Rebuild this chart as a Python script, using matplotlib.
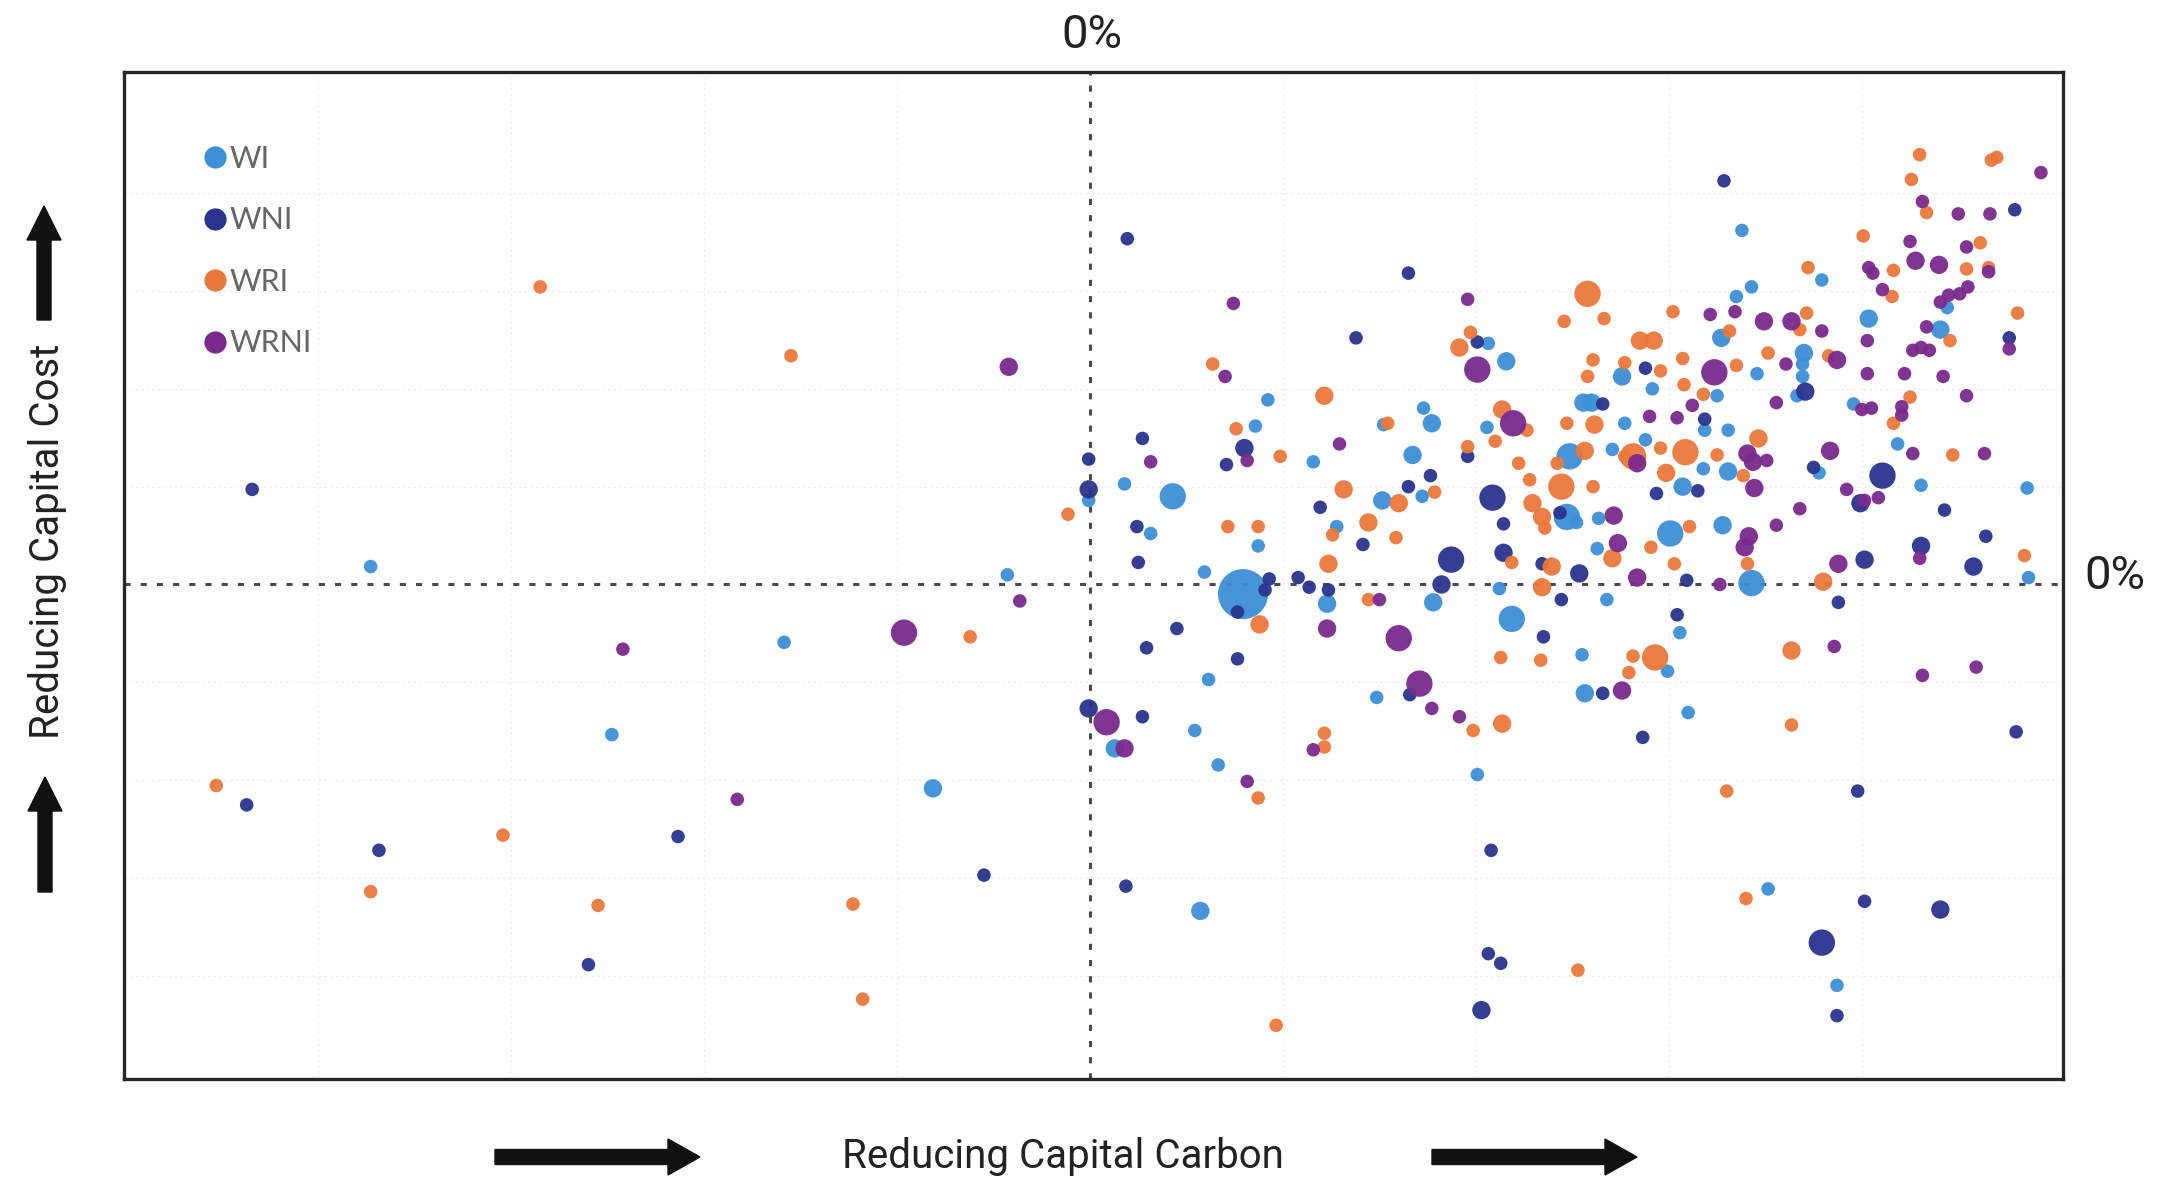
import matplotlib
matplotlib.use("Agg")
import matplotlib.pyplot as plt
from matplotlib.lines import Line2D
from matplotlib.patches import FancyArrow
from matplotlib.transforms import IdentityTransform

# ---------------- data ----------------
series_names = ["WI", "WNI", "WRI", "WRNI"]
series_colors = ["#3d8fd6", "#29348e", "#ea783b", "#7a2a8d"]

wi_x = [-52.2, -6.0, -22.2, -34.7, -11.4, -0.1, 2.5, 6.0, 4.4, 8.3, 11.1, 8.6, 7.6, 9.3, 1.8, 8.0,
        12.9, 12.0, 12.2, 16.2, 17.9, 17.2, 20.8, 21.2, 23.4, 24.1, 24.9, 24.2, 24.8, 28.9, 30.2,
        28.8, 29.7, 30.6, 28.1, 34.6, 35.3, 34.8, 35.8, 36.4, 38.6, 38.8, 37.9, 36.9, 36.8, 37.5,
        35.7, 35.9, 43.4, 42.8, 41.9, 40.3, 40.8, 44.6, 46.3, 44.5, 46.3, 43.0, 45.9, 42.1, 48.0,
        45.5, 48.4, 45.8, 46.9, 48.0, 47.3, 53.1, 51.8, 51.7, 51.7, 51.3, 55.4, 56.5, 61.7, 62.2,
        58.6, 52.9, 60.3, 68.0, 68.1, 49.2, 54.2, 21.3]
wi_y = [1.3, 0.7, -4.2, -10.9, -14.8, 6.1, 7.3, 6.4, 3.7, 0.9, -0.7, -6.9, -10.6, -13.1, -11.9, -23.7,
        13.4, 11.5, 2.8, 8.9, 4.2, -1.4, -8.2, 6.1, 9.4, 6.4, -1.3, 12.8, 11.7, 17.5, 16.2,
        11.4, -0.3, -2.5, -13.8, 4.9, 4.5, 9.3, 13.2, 13.2, 15.1, 11.7, 9.8, 4.8, 2.6, -1.1,
        -5.1, -7.9, -9.3, -3.5, -6.3, 10.5, 14.2, 11.2, 11.2, 8.4, 8.2, 7.1, 4.3, 3.7, 0.1,
        13.7, 15.3, 17.9, 20.9, 21.6, 25.7, 22.1, 16.8, 16.0, 15.1, 13.7, 13.1, 19.3, 18.5, 20.1,
        10.2, 8.1, 7.2, 7.0, 0.5, -22.1, -29.1, 11.6]
wi_w = [1, 1, 1, 1, 2, 1, 1, 3, 1, 1, 4, 1, 1, 1, 2, 2,
        1, 1, 1, 1, 1, 2, 1, 2, 2, 1, 2, 1, 2, 1, 2,
        1, 1, 3, 1, 3, 1, 3, 2, 2, 2, 1, 1, 1, 1, 1,
        1, 2, 1, 1, 1, 1, 1, 1, 1, 1, 2, 2, 2, 3, 3,
        1, 1, 2, 1, 1, 1, 1, 2, 1, 1, 1, 1, 2, 2, 1,
        1, 1, 1, 1, 1, 1, 1, 1]

wni_x = [-60.8, -61.2, -51.6, -29.9, -7.7, -36.4, 2.7, 3.8, -0.1, -0.1, 3.4, 3.5, 6.3, 4.1, 10.7,
         3.8, -0.1, 2.6, 9.9, 11.2, 10.7, 13.0, 12.7, 15.1, 15.9, 17.3, 16.7, 19.8, 19.3, 23.1,
         23.1, 24.7, 27.4, 28.1, 26.2, 25.5, 23.2, 29.2, 30.0, 30.0, 32.8, 34.2, 35.5, 32.9, 34.1,
         37.2, 40.1, 29.1, 28.9, 29.8, 28.4, 37.2, 40.3, 41.1, 44.1, 43.3, 42.6, 44.6, 46.0, 51.9,
         52.5, 54.3, 56.2, 57.5, 55.9, 62.0, 60.3, 65.0, 64.1, 67.1, 66.7, 67.2, 55.7, 56.2, 61.7,
         53.1, 54.2]
wni_y = [6.9, -16.0, -19.3, -18.3, -21.1, -27.6, 25.1, 10.6, 9.1, 6.9, 4.2, 1.6, -3.2, -4.6, -5.4,
         -9.6, -9.0, -21.9, 8.7, 9.9, -2.0, 0.4, -0.4, 0.5, -0.2, -0.4, 5.6, 2.9, 17.9, 22.6,
         7.1, 7.9, 9.3, 17.6, 1.8, 0.0, -8.0, 6.3, 4.4, 2.3, 1.5, -1.1, 0.8, -3.8, 5.2,
         13.1, -11.1, -19.3, -26.8, -27.5, -30.9, -7.9, 15.7, 6.6, 6.8, 0.3, -2.2, 12.0, 29.3, 14.0,
         8.5, -1.3, 1.8, 7.9, 5.9, 5.4, 2.8, 3.5, 1.3, 27.2, 17.9, -10.7, -15.0, -23.0, -23.6,
         -26.0, -31.3]
wni_w = [1, 1, 1, 1, 1, 1, 1, 1, 1, 2, 1, 1, 1, 1, 1,
         1, 2, 1, 1, 2, 1, 1, 1, 1, 1, 1, 1, 1, 1, 1,
         1, 1, 1, 1, 3, 2, 1, 3, 1, 2, 1, 1, 2, 1, 1,
         1, 1, 1, 1, 1, 2, 1, 1, 1, 1, 1, 1, 1, 1, 2,
         1, 1, 2, 3, 2, 1, 2, 1, 2, 1, 1, 1, 1, 1, 2,
         3, 1]

wri_x = [-39.9, -21.7, -63.4, -42.6, -52.2, -35.7, -17.2, -16.5, -8.7, -1.6, 8.9, 17.0, 10.6, 13.8,
         10.0, 12.2, 12.3, 17.3, 20.2, 18.4, 17.6, 20.2, 12.2, 17.0, 17.0, 13.5, 21.6, 22.4, 22.2,
         25.0, 27.6, 26.8, 27.4, 29.4, 29.9, 31.7, 31.1, 31.9, 34.2, 33.9, 32.1, 32.8, 33.0, 35.9,
         36.5, 34.6, 36.6, 36.1, 34.4, 37.3, 36.5, 36.1, 38.8, 38.8, 30.6, 33.5, 32.8, 37.9, 29.8,
         32.7, 29.9, 27.8, 35.4, 39.9, 40.9, 42.3, 43.0, 41.4, 43.1, 44.5, 46.4, 49.2, 46.9, 52.0,
         51.5, 52.1, 53.6, 56.1, 58.3, 58.2, 58.3, 59.5, 59.6, 60.2, 60.7, 63.6, 65.2, 64.6, 65.4,
         65.8, 62.4, 67.3, 48.5, 39.4, 41.4, 43.2, 41.8, 45.5, 47.4, 43.5, 40.7, 42.4, 47.7, 53.2,
         62.6, 67.8, 50.9, 39.4, 41.0, 39.1, 50.9, 46.2, 47.6]
wri_y = [21.6, 16.6, -14.6, -18.2, -22.3, -23.3, -23.2, -30.1, -3.8, 5.1, 16.0, 13.7, 11.3, 9.3,
         4.2, 4.2, -2.9, 1.5, 4.5, 6.9, 3.6, -1.1, -15.5, -10.8, -11.8, -32.0, 11.7, 5.9, 3.4,
         6.7, 18.3, 17.2, 10.0, 10.4, 12.7, 11.2, 8.8, 7.6, 7.1, 8.8, 5.9, 4.9, 4.1, 9.7,
         7.1, 11.7, 11.6, 21.1, 19.1, 19.3, 16.3, 15.1, 16.1, 9.3, 1.6, 1.3, -0.2, 1.9, -5.3,
         -5.5, -10.1, -10.6, -28.0, 17.7, 17.7, 19.8, 16.4, 15.5, 14.5, 13.8, 18.4, 16.8, 15.9, 19.7,
         18.5, 23.0, 16.6, 25.3, 22.8, 20.9, 11.7, 13.6, 29.4, 31.2, 27.0, 22.9, 23.0, 24.8, 30.8,
         31.0, 17.7, 19.7, 10.6, 9.3, 9.9, 9.6, 8.1, 9.4, 7.9, 4.2, 2.7, 1.5, 1.5, 0.2,
         9.4, 2.1, -4.8, -5.2, -5.3, -6.4, -10.2, -15.0, -22.8]
wri_w = [1, 1, 1, 1, 1, 1, 1, 1, 1, 1, 1, 2, 1, 1,
         1, 1, 2, 2, 2, 2, 1, 1, 1, 1, 1, 1, 1, 2, 1,
         1, 1, 2, 1, 1, 2, 1, 1, 1, 3, 1, 2, 2, 1, 2,
         1, 1, 2, 3, 1, 1, 1, 1, 1, 1, 1, 2, 2, 2, 1,
         1, 2, 1, 1, 2, 2, 1, 1, 1, 1, 1, 1, 1, 1, 1,
         1, 1, 1, 1, 1, 1, 1, 1, 1, 1, 1, 1, 1, 1, 1,
         1, 1, 1, 2, 3, 1, 3, 2, 1, 1, 1, 1, 1, 1, 2,
         1, 1, 2, 1, 3, 1, 1, 1, 1]

wrni_x = [-5.9, -5.1, -13.5, -33.9, -25.6, 1.2, 2.5, 4.4, 10.4, 9.8, 11.4, 18.1, 17.2, 21.0, 16.2,
          11.4, 22.4, 23.9, 24.8, 26.8, 27.4, 28.1, 30.7, 38.3, 38.0, 38.6, 39.7, 39.7, 45.7, 47.7,
          48.1, 49.1, 48.2, 45.3, 45.0, 46.8, 48.9, 50.9, 53.1, 50.5, 49.8, 54.2, 43.7, 40.6, 42.6,
          56.0, 56.7, 58.9, 58.9, 56.4, 59.1, 61.9, 63.6, 56.4, 59.7, 60.3, 60.9, 60.7, 56.5, 56.8,
          57.5, 59.5, 59.9, 61.6, 63.6, 63.7, 63.1, 62.3, 61.7, 65.2, 60.4, 63.0, 65.3, 69.0, 53.7,
          54.9, 56.2, 57.2, 51.5, 49.8, 47.8, 47.5, 54.3, 60.2, 59.7, 64.9, 54.0, 60.4, 64.3, 66.7]
wrni_y = [15.8, -1.2, -3.5, -4.7, -15.6, -10.0, -11.9, 8.9, 20.4, 15.1, 9.0, 10.2, -3.2, -1.1, -12.0,
          -14.3, -3.9, -7.2, -9.0, -9.6, 20.7, 15.6, 11.7, 3.0, 5.0, -7.7, 8.8, 0.5, 0.0, 9.5,
          8.9, 9.0, 7.0, 15.4, 19.6, 19.8, 19.1, 19.1, 18.4, 16.0, 13.2, 16.3, 13.0, 12.2, 12.1,
          12.7, 12.8, 12.9, 12.3, 15.3, 15.3, 15.1, 13.7, 17.7, 17.0, 17.2, 17.0, 18.7, 23.0, 22.6,
          21.4, 24.9, 23.5, 23.2, 24.5, 21.6, 21.1, 21.0, 20.5, 22.7, 27.8, 26.9, 26.9, 29.9, 9.7,
          6.9, 6.1, 6.3, 5.5, 4.3, 3.5, 2.7, 1.5, 1.9, 9.5, 9.5, -4.5, -6.6, -6.0, 17.1]
wrni_w = [2, 1, 3, 1, 1, 3, 2, 1, 1, 1, 1, 1, 2, 1, 1,
          1, 3, 3, 1, 1, 1, 3, 3, 2, 2, 2, 2, 2, 1, 2,
          2, 1, 2, 3, 1, 1, 2, 2, 1, 1, 1, 2, 1, 1, 1,
          1, 1, 1, 1, 1, 1, 1, 1, 1, 1, 1, 1, 1, 1, 1,
          1, 1, 2, 2, 1, 1, 1, 1, 1, 1, 1, 1, 1, 1, 2,
          1, 1, 1, 1, 1, 2, 2, 2, 1, 1, 1, 1, 1, 1, 1]

all_x = [wi_x, wni_x, wri_x, wrni_x]
all_y = [wi_y, wni_y, wri_y, wrni_y]
all_w = [wi_w, wni_w, wri_w, wrni_w]

top_label = "0%"
right_label = "0%"
x_title = "Reducing Capital Carbon"
y_title = "Reducing Capital Cost"

# ---------------- figure ----------------
W, H, DPI = 2161, 1189, 100
fig = plt.figure(figsize=(W / DPI, H / DPI), dpi=DPI, facecolor="white")
ax = fig.add_axes([124 / W, 1 - 1079 / H, (2063 - 124) / W, (1079 - 72) / H])
ax.set_xlim(-70.1, 70.6)
ax.set_ylim(-35.9, 37.2)

# faint background grid
for gx in [-56, -42, -28, -14, 14, 28, 42, 56]:
    ax.axvline(gx, color="#f1f1f1", lw=1.0, ls=(0, (2, 2)), zorder=0)
for gy in [-28.4, -21.3, -14.2, -7.1, 7.1, 14.2, 21.3, 28.4]:
    ax.axhline(gy, color="#f1f1f1", lw=1.0, ls=(0, (2, 2)), zorder=0)

area = {1: 95, 2: 175, 3: 360, 4: 1300}
for xs, ys, ws, c in zip(all_x, all_y, all_w, series_colors):
    ax.scatter(xs, ys, s=[area[w] for w in ws], color=c, alpha=0.95,
               edgecolors="none", zorder=3)

ax.axhline(0, color="#4a4a4a", lw=2.2, ls=(0, (2, 3.3)), zorder=2)
ax.axvline(0, color="#4a4a4a", lw=2.2, ls=(0, (2, 3.3)), zorder=2)

ax.set_xticks([])
ax.set_yticks([])
for sp in ax.spines.values():
    sp.set_linewidth(2.4)
    sp.set_color("#262626")

handles = [Line2D([], [], marker="o", ls="none", markersize=16, color=c,
                  markeredgewidth=0) for c in series_colors]
leg = ax.legend(handles, series_names, loc="upper left",
                bbox_to_anchor=(0.035, 0.94), frameon=False,
                prop={"family": ["Lato", "DejaVu Sans"], "size": 22},
                handlelength=0.7, handletextpad=0.12, labelspacing=1.1,
                borderaxespad=0)
for t in leg.get_texts():
    t.set_color("#666666")

cond = ["Liberation Sans Narrow", "Roboto", "DejaVu Sans"]
fig.text(1092 / W, 1 - 35 / H, top_label, ha="center", va="center",
         fontsize=34, family=cond, color="#222222")
fig.text(2084 / W, 1 - 576 / H, right_label, ha="left", va="center",
         fontsize=34, family=cond, color="#222222")
fig.text(1063 / W, 1 - 1157 / H, x_title, ha="center", va="center",
         fontsize=29, family=cond, color="#222222")
fig.text(48 / W, 1 - 541 / H, y_title, ha="center", va="center",
         rotation=90, fontsize=29, family=cond, color="#222222")

ident = IdentityTransform()
def arrow(x0, y0, x1, y1, width, hw, hl):
    fig.add_artist(FancyArrow(x0, H - y0, x1 - x0, -(y1 - y0), width=width,
                              head_width=hw, head_length=hl,
                              length_includes_head=True, color="#111111",
                              transform=ident))

arrow(495, 1157, 700, 1157, 15, 36, 32)
arrow(1432, 1157, 1637, 1157, 15, 36, 32)
arrow(44, 320, 44, 206, 14, 34, 34)
arrow(45, 892, 45, 777, 14, 34, 34)

fig.savefig("out.png", dpi=DPI, facecolor="white")
